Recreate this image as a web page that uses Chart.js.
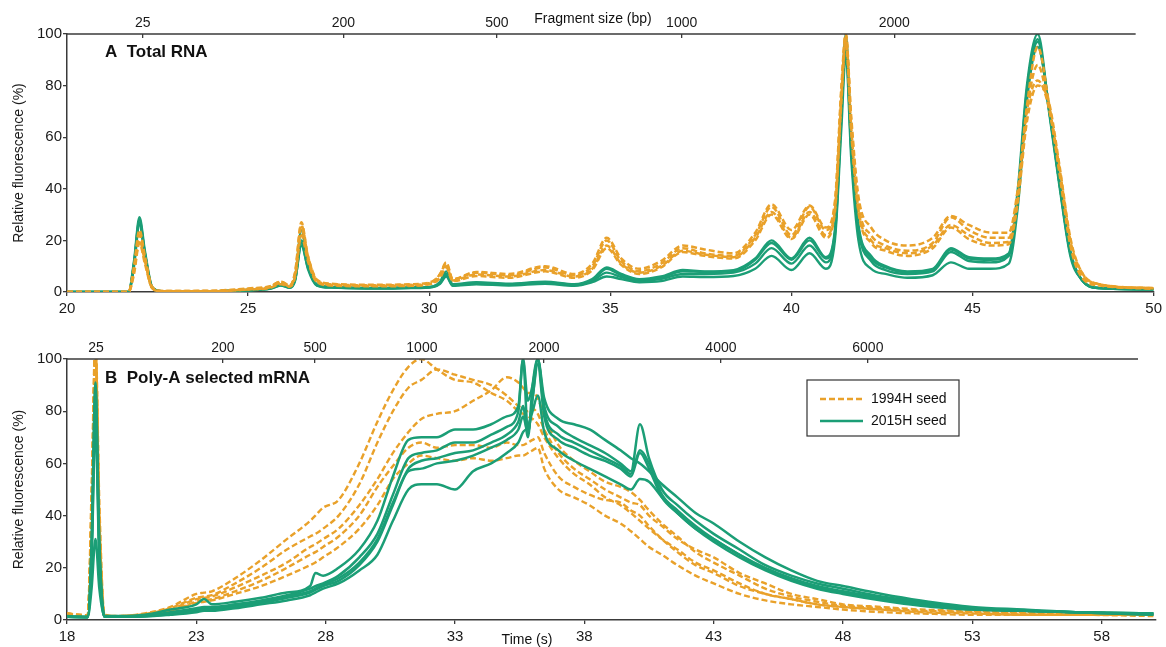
<!DOCTYPE html>
<html>
<head>
<meta charset="utf-8">
<script src="https://cdn.jsdelivr.net/npm/chart.js@4.4.1/dist/chart.umd.min.js"></script>
<style>
  html, body { margin: 0; padding: 0; background: #fff; }
  #wrap { position: relative; width: 1166px; height: 647px; }
  canvas { position: absolute; left: 0; }
</style>
</head>
<body>
<div id="wrap">
  <canvas id="chartA" width="1166" height="318" style="top:0;width:1166px;height:318px"></canvas>
  <canvas id="chartB" width="1166" height="329" style="top:318px;width:1166px;height:329px"></canvas>
</div>
<script>
// ---- panel A: total RNA (time in s, relative fluorescence in %)
var timeA = [20, 21.7, 21.85, 22.0, 22.15, 22.35, 22.6, 24, 25, 25.6, 25.9, 26.15, 26.3, 26.47, 26.65, 26.9, 27.3, 28.5, 29.5, 30.1, 30.3, 30.47, 30.65, 31.3, 32.2, 33.2, 34.0, 34.5, 34.9, 35.3, 35.8, 36.4, 37.0, 37.6, 38.4, 39.0, 39.45, 40.0, 40.5, 40.95, 41.2, 41.38, 41.5, 41.65, 41.85, 42.2, 42.6, 43.2, 43.9, 44.4, 44.9, 45.5, 46.0, 46.25, 46.5, 46.8, 47.1, 47.4, 47.7, 48.0, 48.5, 50];
var totalOld1 = [0,0,10,24,14,2,0.4,0.4,1.2,2,4,2.5,8,27,14,4.5,3,2.6,2.8,4,7,11.5,5,7.5,6.5,9.5,6.5,10,20,12,8,11,17,15,14,22,33,22,33,24,34,78,100,66,34,22,18,16,19,29,24,21,21,38,72,95,74,46,18,6,2.5,1.5];
var totalOld2 = [0,0,8,20,12,1.5,0.3,0.3,1,1.8,3.5,2.2,7,25,13,4,2.8,2.4,2.6,3.6,6,10,4.5,6.8,6,8.5,6,9,18,11,7.5,10,16,14.5,13.5,21,31,21,31,22,32,76,99,64,32,20,17,15,18,26,22,19,19.5,36,70,88,72,47,19,7,3,1.2];
var totalOld3 = [0,0,9,22,13,1.8,0.4,0.5,1.4,2.2,4,2.6,7.5,26,14,4.8,3.2,2.8,3.0,4.2,7,11,5,7.8,7,10,7,11,21,13,9,12,18,16.5,15,23,34,24,33.5,25,35,80,100,68,37,25,20,18,21,29.5,26,23,23,40,70,82,72,48,20,8,3,1.5];
var totalOld4 = [0,0,7,19,11,1.5,0.3,0.3,1,1.6,3,2,6,22,12,3.8,2.5,2.2,2.4,3.4,5.5,9.5,4.2,6.2,5.5,8,5.5,8.5,17,10.5,7,9.5,15.5,14,13,20,30,20.5,30,21,31,74,97,62,31,19,16,14,17,25,20.5,18,18.5,35,66,80,74,49,21,8,3,1.5];
var totalNew1 = [0,0,12,29,16,2,0.3,0.3,0.8,1.5,3,2,6,24,11,3,2,1.6,1.8,2.2,4,8,3,3.8,3.2,4,3,5,9.5,7,5,6,8.5,8,8.5,13,20,13,21,13.5,24,72,100,58,26,14,10,8,9,17,13.5,13,15,40,80,100,72,42,15,5,1.5,1];
var totalNew2 = [0,0,11,28,15,1.8,0.3,0.3,0.8,1.4,3,1.8,5,20,10,2.8,1.9,1.5,1.7,2.1,3.6,7,2.8,3.5,3,3.8,2.8,4.6,9,6.5,4.8,5.5,8,7.8,8,12.5,19,12.5,20,13,23,70,98,56,25,13,9.5,7.6,8.5,16.5,13,12.5,14.5,38,78,98,71,41,14,5,1.5,1];
var totalNew3 = [0,0,11,27,15,1.8,0.3,0.3,0.7,1.3,2.6,1.7,5,18,9.5,2.6,1.8,1.4,1.6,2,3.4,6.5,2.6,3.2,2.8,3.5,2.6,4.2,7.5,5.8,4.3,5,7,7,7.5,11,17,11,18,11.5,22,68,96,55,24,12,8.5,7,8,15.5,12,11.5,14,36,76,97,72,42,15,5,1.5,1];
var totalNew4 = [0,0,10,26,14,1.6,0.3,0.3,0.7,1.2,2.5,1.6,4.5,19,9,2.5,1.7,1.3,1.5,1.9,3.2,6,2.4,3,2.5,3.2,2.4,3.8,6,5,3.8,4.2,6,5.8,6.2,9,14,8.5,15,9,20,64,92,52,20,9,7,5.5,6.5,11.5,9,9,11,33,74,95,73,43,16,5,1.5,1];
var timeTicksA = [20, 25, 30, 35, 40, 45, 50];
var sizeLabelsA = ['25', '200', '500', '1000', '2000'];
var sizeTimesA = [22.09, 27.63, 31.87, 36.97, 42.84];

// ---- panel B: poly-A selected mRNA
var timeB = [18, 18.8, 18.95, 19.1, 19.25, 19.45, 20, 21, 22, 23, 23.3, 23.6, 24.5, 25.5, 26.5, 27.4, 27.6, 27.9, 28.5, 29.3, 30, 30.6, 31.2, 31.7, 32.3, 33, 33.7, 34.4, 35.0, 35.45, 35.63, 35.82, 36.0, 36.2, 36.45, 37.0, 37.6, 38.2, 38.8, 39.4, 39.8, 40.15, 40.5, 41.0, 41.6, 42.3, 43, 44, 45, 46, 47, 48, 49.5, 51, 53, 55, 57, 60];
var polyOld1 = [2.5,1.8,50,108,45,2,1.5,2.5,5,10,10.5,11,16,23,31,38,40,43,46,60,76,88,97,100,96,92,91,87,84,80,79,78,77,75,70,62,56,52,47,44,41,38,35,31,27,22,19,14,10,8,6,5,4,3.5,3,2.5,2.5,2];
var polyOld2 = [2,1.5,45,105,40,1.8,1.5,2.3,4.5,8.5,9,9.5,14,20,27,32,33,35,40,52,68,80,89,92,96,94,92,90,86,82,81,80,81,79,73,64,58,54,50,47,45,44,40,36,31,27,24,18,14,10,8,6,5,4,3.5,3,3,2];
var polyOld3 = [2.5,1.5,40,102,35,1.5,1.5,2,4,8,8.5,9,12.5,17,22,28,29,31,35,44,54,64,72,77,79,80,84,88,93,91,89,87,87,85,78,67,61,57,53,51,49,46,42,37,32,26,22,17,12,9,7,5.5,4.5,3.5,3,2.5,2.5,2];
var polyOld4 = [2,1.5,40,100,35,1.5,1.5,2,3.5,7,7.5,8,11,15,20,25,26,28,32,40,51,59,66,68,66,67,67,66,68,67,67,68,69,70,64,55,51,48,46,45,42,40,36,31,26,21,18,13,10,8,6,5,4,3,2.5,2,2,2];
var polyOld5 = [2.5,1.8,42,103,38,1.6,1.5,2,3.5,6.5,7,7.5,10,13,17,21,22,24,28,35,44,54,60,63,62,61,62,61,62,63,63,64,65,66,58,50,47,44,40,37,34,31,28,25,21,17,14,10,7.5,6,5,4,3,2.5,2,2,2,1.5];
var polyNew1 = [1.5,1.2,30,91,30,1.5,1.5,2,4,6,8,6,7,8.5,10.5,13,18,17,20,27,38,55,69,70,70,73,73,75,78,82,100,84,90,100,85,77,75,73,69,65,62,60,57,52,47,41,37,30,24,19,15,13,10,7.5,5,4,3,2.5];
var polyNew2 = [1.3,1.2,28,88,28,1.3,1.3,1.6,3,4.5,5,5,6,7.5,9.5,12,13,14,17,24,33,48,62,64,65,68,68,71,74,80,100,72,85,100,82,74,70,67,64,60,57,75,62,50,44,38,33,27,21,17,14,12,9,7,4.5,3.5,3,2.5];
var polyNew3 = [1.2,1.1,26,80,26,1.2,1.2,1.5,2.5,4,4.5,4.5,5.5,7,9,11,12,13.5,16,22,31,45,58,61,62,64,65,68,71,76,82,70,90,100,80,71,68,65,62,59,56,65,60,48,42,36,31,25,20,16,13,11,8.5,6.5,4.5,3.5,3,2.5];
var polyNew4 = [1.2,1.1,22,75,22,1.2,1.2,1.4,2.2,3.5,4,4,5,6.5,8.5,10.5,11.5,13,15,21,30,44,57,58,60,61,63,66,69,73,78,72,85,98,78,69,66,63,61,58,55,64,58,47,41,35,31,25,19.5,15.5,12.5,10.5,8,6,4,3.5,3,2];
var polyNew5 = [1.2,1.1,12,31,12,1.2,1.2,1.3,2,3,3.5,3.5,4.5,6,7.5,9.5,10.5,12,14,19,25,38,50,52,52,50,57,60,64,68,72,74,80,86,72,65,61,58,55,52,50,54,53,47,41,35,30,24,19,15,12,10,7.5,5.5,4,3.5,3,2];
var timeTicksB = [18, 23, 28, 33, 38, 43, 48, 53, 58];
var sizeLabelsB = ['25', '200', '500', '1000', '2000', '4000', '6000'];
var sizeTimesB = [19.12, 24.03, 27.59, 31.72, 36.44, 43.28, 48.96];

var seedNames = ['1994H seed', '2015H seed'];

Chart.defaults.font.family = '"Liberation Sans", Arial, sans-serif';
Chart.defaults.color = '#1a1a1a';

var orange = '#E9A12A';
var green = '#1B9E76';
var axisColor = '#3a3a3a';

function series(xs, ys, old, width) {
    return {
        label: old ? seedNames[0] : seedNames[1],
        data: xs.map(function (t, i) { return { x: t, y: ys[i] }; }),
        borderColor: old ? orange : green,
        borderWidth: width,
        borderDash: old ? [6, 3] : [],
        pointRadius: 0,
        fill: false,
        cubicInterpolationMode: 'monotone'
    };
}

function axes(min, max, timeTicks, sizeTimes, sizeLabels, topH, bottomH) {
    return {
        x: {
            type: 'linear', position: 'bottom', min: min, max: max,
            afterBuildTicks: function (s) { s.ticks = timeTicks.map(function (v) { return { value: v }; }); },
            ticks: { autoSkip: false, maxRotation: 0, padding: 4, font: { size: 15 } },
            grid: { drawOnChartArea: false, tickLength: 4, color: axisColor, lineWidth: 1.3 },
            border: { color: axisColor, width: 1.5 },
            afterFit: function (s) { s.height = bottomH; }
        },
        x2: {
            type: 'linear', position: 'top', min: min, max: max,
            afterBuildTicks: function (s) { s.ticks = sizeTimes.map(function (v) { return { value: v }; }); },
            ticks: {
                autoSkip: false, maxRotation: 0, padding: 6, font: { size: 14 },
                callback: function (v, i) { return sizeLabels[i]; }
            },
            grid: { drawOnChartArea: false, tickLength: -4, color: axisColor, lineWidth: 1.3 },
            border: { display: false },
            afterFit: function (s) { s.height = topH; }
        },
        y: {
            min: 0, max: 100,
            ticks: { stepSize: 20, padding: 1, font: { size: 15 } },
            grid: { drawOnChartArea: false, tickLength: 4, color: axisColor, lineWidth: 1.3 },
            border: { color: axisColor, width: 1.5 },
            title: { display: true, text: 'Relative fluorescence (%)', font: { size: 14 }, padding: { top: 11, bottom: 0 } },
            afterFit: function (s) { s.width = 67; }
        }
    };
}

// panel labels, extra axis titles, the shorter top axis line and the boxed legend
function notes(draw) {
    return {
        id: 'notes',
        afterDraw: function (chart) {
            var ctx = chart.ctx;
            var area = chart.chartArea;
            ctx.save();
            ctx.strokeStyle = axisColor;
            ctx.lineWidth = 1.5;
            ctx.beginPath();
            ctx.moveTo(area.left, area.top);
            ctx.lineTo(area.right - 18, area.top);
            ctx.stroke();
            ctx.fillStyle = '#111';
            ctx.textBaseline = 'middle';
            draw(ctx, area);
            ctx.restore();
        }
    };
}

// panel A
new Chart(document.getElementById('chartA'), {
    type: 'line',
    data: {
        datasets: [
            series(timeA, totalOld1, true, 2.5),
            series(timeA, totalOld2, true, 2.5),
            series(timeA, totalOld3, true, 2.5),
            series(timeA, totalOld4, true, 2.5),
            series(timeA, totalNew1, false, 2.4),
            series(timeA, totalNew2, false, 2.4),
            series(timeA, totalNew3, false, 2.4),
            series(timeA, totalNew4, false, 2.4)
        ]
    },
    options: {
        responsive: false, animation: false, events: [],
        layout: { padding: { left: 0, right: 10, top: 0, bottom: 0 } },
        plugins: { legend: { display: false }, tooltip: { enabled: false } },
        scales: axes(20, 50, timeTicksA, sizeTimesA, sizeLabelsA, 34, 26)
    },
    plugins: [notes(function (ctx, area) {
        ctx.font = 'bold 17px "Liberation Sans", Arial, sans-serif';
        ctx.textAlign = 'left';
        ctx.fillText('A  Total RNA', area.left + 38, area.top + 18);
        ctx.font = '14px "Liberation Sans", Arial, sans-serif';
        ctx.textAlign = 'center';
        ctx.fillText('Fragment size (bp)', 593, 19);
    })]
});

// panel B
new Chart(document.getElementById('chartB'), {
    type: 'line',
    data: {
        datasets: [
            series(timeB, polyNew1, false, 2.5),
            series(timeB, polyNew2, false, 2.5),
            series(timeB, polyNew3, false, 2.5),
            series(timeB, polyNew4, false, 2.5),
            series(timeB, polyNew5, false, 2.5),
            series(timeB, polyOld1, true, 2.4),
            series(timeB, polyOld2, true, 2.4),
            series(timeB, polyOld3, true, 2.4),
            series(timeB, polyOld4, true, 2.4),
            series(timeB, polyOld5, true, 2.4)
        ]
    },
    options: {
        responsive: false, animation: false, events: [],
        layout: { padding: { left: 0, right: 10, top: 0, bottom: 0 } },
        plugins: { legend: { display: false }, tooltip: { enabled: false } },
        scales: axes(18, 60.1, timeTicksB, sizeTimesB, sizeLabelsB, 41, 27)
    },
    plugins: [notes(function (ctx, area) {
        ctx.font = 'bold 17px "Liberation Sans", Arial, sans-serif';
        ctx.textAlign = 'left';
        ctx.fillText('B  Poly-A selected mRNA', area.left + 38, area.top + 19);
        ctx.font = '14px "Liberation Sans", Arial, sans-serif';
        ctx.textAlign = 'center';
        ctx.fillText('Time (s)', 527, 322);

        var bx = area.left + 740, by = area.top + 21;
        ctx.strokeStyle = '#333';
        ctx.lineWidth = 1.2;
        ctx.strokeRect(bx, by, 152, 56);
        ctx.textAlign = 'left';
        [[true, 19], [false, 41]].forEach(function (e) {
            ctx.beginPath();
            ctx.strokeStyle = e[0] ? orange : green;
            ctx.lineWidth = 2.5;
            ctx.setLineDash(e[0] ? [6, 3] : []);
            ctx.moveTo(bx + 13, by + e[1]);
            ctx.lineTo(bx + 56, by + e[1]);
            ctx.stroke();
            ctx.setLineDash([]);
            ctx.fillText(e[0] ? seedNames[0] : seedNames[1], bx + 64, by + e[1]);
        });
    })]
});
</script>
</body>
</html>
